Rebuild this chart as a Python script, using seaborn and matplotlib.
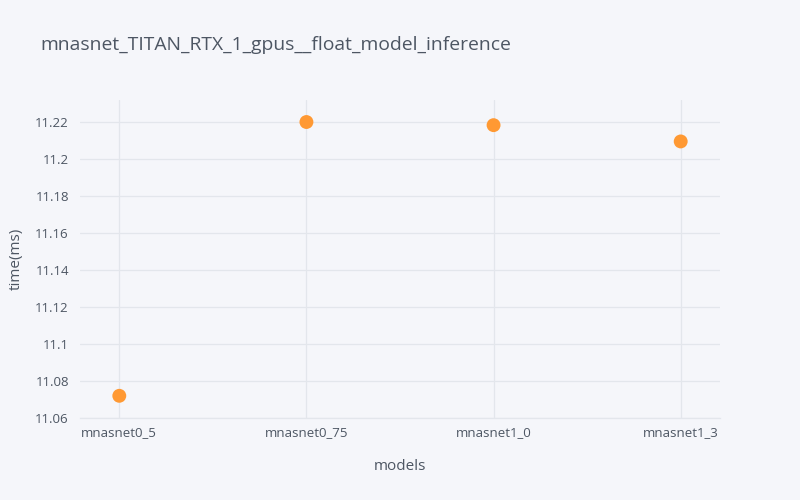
import pandas as pd
import matplotlib
matplotlib.use("Agg")
import matplotlib.pyplot as plt
import seaborn as sns

models = ["mnasnet0_5", "mnasnet0_75", "mnasnet1_0", "mnasnet1_3"]
times = [11.072, 11.220, 11.2183, 11.2095]
y_ticks = [11.06, 11.08, 11.1, 11.12, 11.14, 11.16, 11.18, 11.2, 11.22]
y_tick_labels = ["11.06", "11.08", "11.1", "11.12", "11.14", "11.16", "11.18", "11.2", "11.22"]

df = pd.DataFrame({"models": models, "time": times})

bg = "#f5f6fa"
grid = "#e3e6ec"
text = "#4d5663"

sns.set_theme(style="white")
plt.rcParams["font.family"] = ["Open Sans", "DejaVu Sans"]

fig = plt.figure(figsize=(8, 5), dpi=100, facecolor=bg)
ax = fig.add_axes([0.1, 0.164, 0.8, 0.636], facecolor=bg)

sns.scatterplot(data=df, x="models", y="time", ax=ax, color="#ff9933",
                s=100, edgecolor="none", zorder=3)

ax.set_xlim(-0.21, 3.21)
ax.set_ylim(11.06, 11.2319)
ax.set_yticks(y_ticks)
ax.set_yticklabels(y_tick_labels)

ax.grid(True, color=grid, linewidth=0.9)
ax.set_axisbelow(True)
for side in ["top", "right", "left"]:
    ax.spines[side].set_visible(False)
ax.spines["bottom"].set_color(grid)
ax.spines["bottom"].set_linewidth(0.9)

ax.tick_params(axis="both", length=0, labelsize=9.5, colors=text)
ax.tick_params(axis="y", pad=8)
ax.tick_params(axis="x", pad=6)

ax.set_xlabel("models", fontsize=11, color=text, labelpad=14)
ax.set_ylabel("time(ms)", fontsize=11, color=text, labelpad=8)

fig.text(0.05, 0.911, "mnasnet_TITAN_RTX_1_gpus__float_model_inference",
         fontsize=13.9, color=text, va="center", ha="left")

fig.savefig("out.png", dpi=100, facecolor=bg)
